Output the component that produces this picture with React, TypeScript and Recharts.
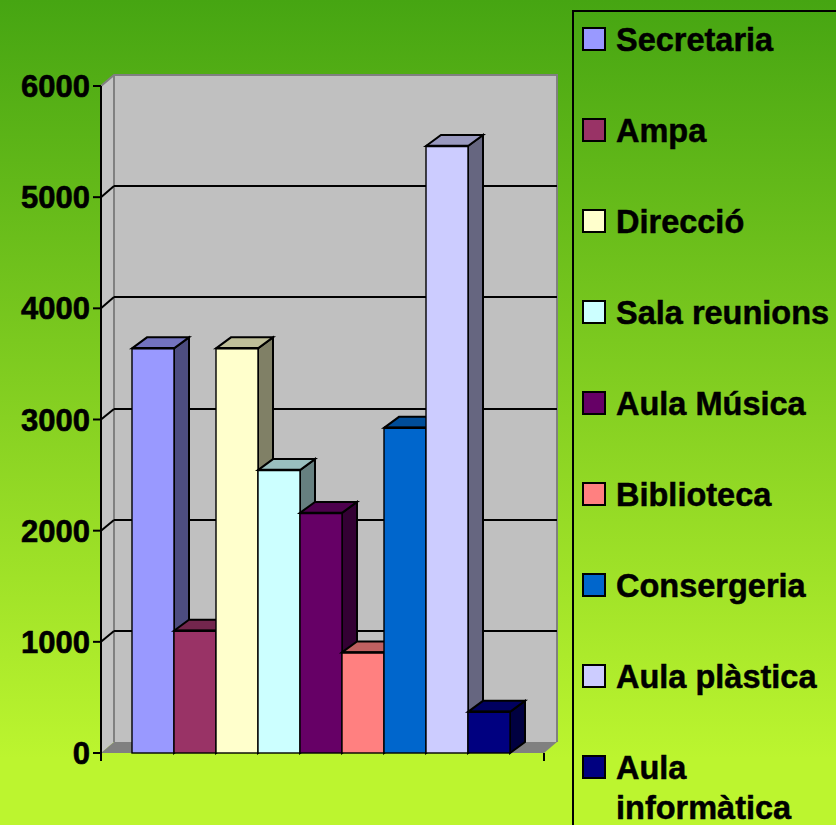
import React from 'react';
import { Bar, BarChart, CartesianGrid, Customized, Legend, XAxis, YAxis, usePlotArea } from 'recharts';

// Old Excel-style 3D column chart: one category, nine series, pseudo-3D drawn by
// custom shapes on top of the library's scales.

const CATEGORY = ['Aules'];
const NAMES = [
  'Secretaria',
  'Ampa',
  'Direcció',
  'Sala reunions',
  'Aula Música',
  'Biblioteca',
  'Consergeria',
  'Aula plàstica',
  'Aula informàtica',
];
const VALUES = [3640, 1100, 3640, 2545, 2160, 905, 2925, 5460, 370];
const COLORS = [
  '#9999ff',
  '#993366',
  '#ffffcc',
  '#ccffff',
  '#660066',
  '#ff8080',
  '#0066cc',
  '#ccccff',
  '#000080',
];
const Y_TICKS = [0, 1000, 2000, 3000, 4000, 5000, 6000];

const WIDTH = 836;
const HEIGHT = 825;
const PLOT_LEFT = 101;
const PLOT_RIGHT = 544;
const PLOT_TOP = 86;
const PLOT_BOTTOM = 753;
const WALL_DX = 13;
const WALL_DY = 11;
const BAR_DX = 15;
const BAR_DY = 11;
const FONT = '"Liberation Sans", Arial, sans-serif';

const data = [
  NAMES.reduce<Record<string, string | number>>(
    (row, name, i) => {
      row[name] = VALUES[i];
      return row;
    },
    { category: CATEGORY[0] },
  ),
];

const shade = (hex: string, k: number) => {
  const n = parseInt(hex.slice(1), 16);
  const c = [(n >> 16) & 255, (n >> 8) & 255, n & 255].map((v) => Math.round(v * k));
  return `rgb(${c[0]},${c[1]},${c[2]})`;
};

// Back wall, side wall and floor. The chart paints its grid below any Customized
// layer, so these sit in their own svg behind the transparent chart.
const Walls = () => {
  const x = PLOT_LEFT;
  const y = PLOT_TOP;
  const r = PLOT_RIGHT;
  const b = PLOT_BOTTOM;
  return (
    <svg width={WIDTH} height={HEIGHT} style={{ position: 'absolute', left: 0, top: 0 }}>
      <polygon
        points={`${x},${y} ${x + WALL_DX},${y - WALL_DY} ${x + WALL_DX},${b - WALL_DY} ${x},${b}`}
        fill="#c4c4c4"
      />
      <rect x={x + WALL_DX} y={y - WALL_DY} width={r - x} height={b - y} fill="#c0c0c0" />
      <polygon
        points={`${x},${b} ${x + WALL_DX},${b - WALL_DY} ${r + WALL_DX},${b - WALL_DY} ${r},${b}`}
        fill="#808080"
      />
      <polyline
        points={`${x},${y} ${x + WALL_DX},${y - WALL_DY} ${r + WALL_DX},${y - WALL_DY} ${r + WALL_DX},${b - WALL_DY}`}
        fill="none"
        stroke="#808080"
        strokeWidth={2}
      />
      <line
        x1={x + WALL_DX}
        y1={y - WALL_DY}
        x2={x + WALL_DX}
        y2={b - WALL_DY}
        stroke="#808080"
        strokeWidth={2}
      />
    </svg>
  );
};

// End ticks of the category axis, the band scale only gives a centre tick
const EndTicks = () => {
  const plot = usePlotArea();
  if (!plot) return null;
  const { x, y, width, height } = plot;
  const b = y + height;
  return (
    <g stroke="#000" strokeWidth={2}>
      <line x1={x} y1={b} x2={x} y2={b + 8} />
      <line x1={x + width} y1={b} x2={x + width} y2={b + 8} />
    </g>
  );
};

// Gridline runs along the back wall, with a diagonal piece down the side wall
const gridLine = (props: any) => {
  const { x1, x2, y1 } = props;
  // the 0 and 6000 lines are the floor and the top of the wall
  if (y1 <= PLOT_TOP + 1 || y1 >= PLOT_BOTTOM - 1) return <g key={`edge-${y1}`} />;
  const back = Math.round(y1 - WALL_DY);
  return (
    <g key={`grid-${y1}`} stroke="#000" strokeWidth={2}>
      <line x1={x1} y1={y1} x2={x1 + WALL_DX} y2={back} />
      <line x1={x1 + WALL_DX} y1={back} x2={x2 + WALL_DX} y2={back} />
    </g>
  );
};

const Bar3D = (props: any) => {
  const { x, y, width, height, fill } = props;
  const r = x + width;
  const b = y + height;
  return (
    <g>
      <polygon
        points={`${r},${y} ${r + BAR_DX},${y - BAR_DY} ${r + BAR_DX},${b - BAR_DY} ${r},${b}`}
        fill={shade(fill, 0.5)}
        stroke="#000"
        strokeWidth={2}
      />
      <polygon
        points={`${x},${y} ${x + BAR_DX},${y - BAR_DY} ${r + BAR_DX},${y - BAR_DY} ${r},${y}`}
        fill={shade(fill, 0.75)}
        stroke="#000"
        strokeWidth={2}
      />
      <rect x={x} y={y} width={width} height={height} fill={fill} stroke="#000" strokeWidth={1.4} />
      <line x1={x} y1={y} x2={r} y2={y} stroke="#000" strokeWidth={2.5} />
    </g>
  );
};

const LegendBox = ({ payload }: any) => (
  <div
    style={{
      boxSizing: 'border-box',
      width: 300,
      height: 840,
      border: '2px solid #000',
      paddingTop: 7,
      fontFamily: FONT,
      fontWeight: 700,
      fontSize: 32.5,
      lineHeight: '40px',
      color: '#000',
      WebkitTextStroke: '0.5px #000',
    }}
  >
    {(payload ?? []).map((item: any) => (
      <div key={item.value} style={{ display: 'flex', height: 91 }}>
        <span
          style={{
            boxSizing: 'border-box',
            flex: 'none',
            width: 24,
            height: 24,
            margin: '8px 10px 0 8px',
            background: item.color,
            border: '2px solid #000',
          }}
        />
        <span style={{ width: 219, position: 'relative', top: 1 }}>{item.value}</span>
      </div>
    ))}
  </div>
);

export default function App() {
  return (
    <div
      style={{
        position: 'absolute',
        left: 0,
        top: 0,
        width: WIDTH,
        height: HEIGHT,
        overflow: 'hidden',
        background: 'linear-gradient(180deg, #46a512 0%, #bcf52f 92%)',
      }}
    >
      <Walls />
      <BarChart
        width={WIDTH}
        height={HEIGHT}
        data={data}
        margin={{
          top: PLOT_TOP,
          right: WIDTH - PLOT_RIGHT,
          bottom: HEIGHT - PLOT_BOTTOM,
          left: PLOT_LEFT - 91,
        }}
        barCategoryGap={31}
        barGap={0}
      >
        <CartesianGrid vertical={false} horizontal={gridLine} />
        <XAxis
          dataKey="category"
          tick={false}
          tickLine={false}
          height={0}
          padding={{ left: 0, right: 2 }}
          axisLine={{ stroke: '#000', strokeWidth: 2 }}
        />
        <YAxis
          width={91}
          domain={[0, 6000]}
          ticks={Y_TICKS}
          interval={0}
          tickSize={8}
          tickMargin={3}
          axisLine={{ stroke: '#000', strokeWidth: 2 }}
          tickLine={{ stroke: '#000', strokeWidth: 2 }}
          tick={{
            fill: '#000',
            stroke: '#000',
            strokeWidth: 0.6,
            fontSize: 31,
            fontWeight: 700,
            fontFamily: FONT,
          }}
        />
        {NAMES.map((name, i) => (
          <Bar
            key={name}
            dataKey={name}
            name={name}
            fill={COLORS[i]}
            shape={<Bar3D />}
            isAnimationActive={false}
          />
        ))}
        <Customized component={<EndTicks />} />
        {/* horizontal + middle keeps the legend from taking space off the plot */}
        <Legend
          layout="horizontal"
          verticalAlign="middle"
          itemSorter={null}
          content={<LegendBox />}
          wrapperStyle={{ left: 572, top: 10, width: 300, height: 840 }}
        />
      </BarChart>
    </div>
  );
}
